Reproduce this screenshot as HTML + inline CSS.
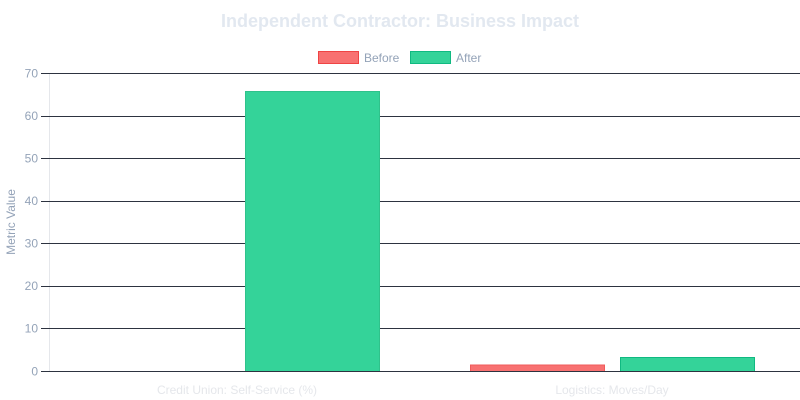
<!DOCTYPE html>
<html>
<head>
<meta charset="utf-8">
<style>
  html,body{margin:0;padding:0;background:#ffffff;}
  svg{display:block;}
  text{font-family:"Liberation Sans",Arial,sans-serif;}
</style>
</head>
<body>
<svg width="800" height="400" viewBox="0 0 800 400" xmlns="http://www.w3.org/2000/svg">
  <!-- Title -->
  <text x="400" y="27" text-anchor="middle" font-size="18" font-weight="bold" fill="#e2e8f0">Independent Contractor: Business Impact</text>

  <!-- Legend -->
  <rect x="318.5" y="51.5" width="40" height="12" fill="#f87171" stroke="#ef4444" stroke-width="1"/>
  <text x="364" y="62" font-size="12" fill="#94a3b8">Before</text>
  <rect x="410.5" y="51.5" width="40" height="12" fill="#34d399" stroke="#10b981" stroke-width="1"/>
  <text x="456" y="62" font-size="12" fill="#94a3b8">After</text>

  <!-- Y axis line -->
  <line x1="49.5" y1="73" x2="49.5" y2="371" stroke="#e5e7eb" stroke-width="1"/>

  <!-- Gridlines + ticks -->
  <g stroke="#2d3340" stroke-width="1">
    <line x1="41" y1="73.5" x2="800" y2="73.5"/>
    <line x1="41" y1="116.5" x2="800" y2="116.5"/>
    <line x1="41" y1="158.5" x2="800" y2="158.5"/>
    <line x1="41" y1="201.5" x2="800" y2="201.5"/>
    <line x1="41" y1="243.5" x2="800" y2="243.5"/>
    <line x1="41" y1="286.5" x2="800" y2="286.5"/>
    <line x1="41" y1="328.5" x2="800" y2="328.5"/>
  </g>

  <!-- Y tick labels -->
  <g font-size="12" fill="#94a3b8" text-anchor="end">
    <text x="38" y="77.5">70</text>
    <text x="38" y="120">60</text>
    <text x="38" y="162.5">50</text>
    <text x="38" y="205">40</text>
    <text x="38" y="247.5">30</text>
    <text x="38" y="290">20</text>
    <text x="38" y="332.5">10</text>
    <text x="38" y="375.5">0</text>
  </g>

  <!-- Y axis title -->
  <text transform="translate(15,222) rotate(-90)" text-anchor="middle" font-size="12" fill="#94a3b8">Metric Value</text>

  <!-- Bars -->
  <rect x="245.5" y="91.5" width="134" height="280" fill="#34d399" stroke="#2fc28b" stroke-width="1"/>
  <rect x="470.5" y="365" width="134" height="6.5" fill="#f87171" stroke="#ef5b5b" stroke-width="1"/>
  <rect x="620.5" y="357.5" width="134" height="14" fill="#34d399" stroke="#10b981" stroke-width="1"/>

  <!-- Baseline -->
  <line x1="41" y1="371.5" x2="800" y2="371.5" stroke="#2d3340" stroke-width="1"/>

  <!-- X labels -->
  <g font-size="12" fill="#e5e7eb" text-anchor="middle">
    <text x="237" y="394">Credit Union: Self-Service (%)</text>
    <text x="612" y="394">Logistics: Moves/Day</text>
  </g>
</svg>
</body>
</html>
